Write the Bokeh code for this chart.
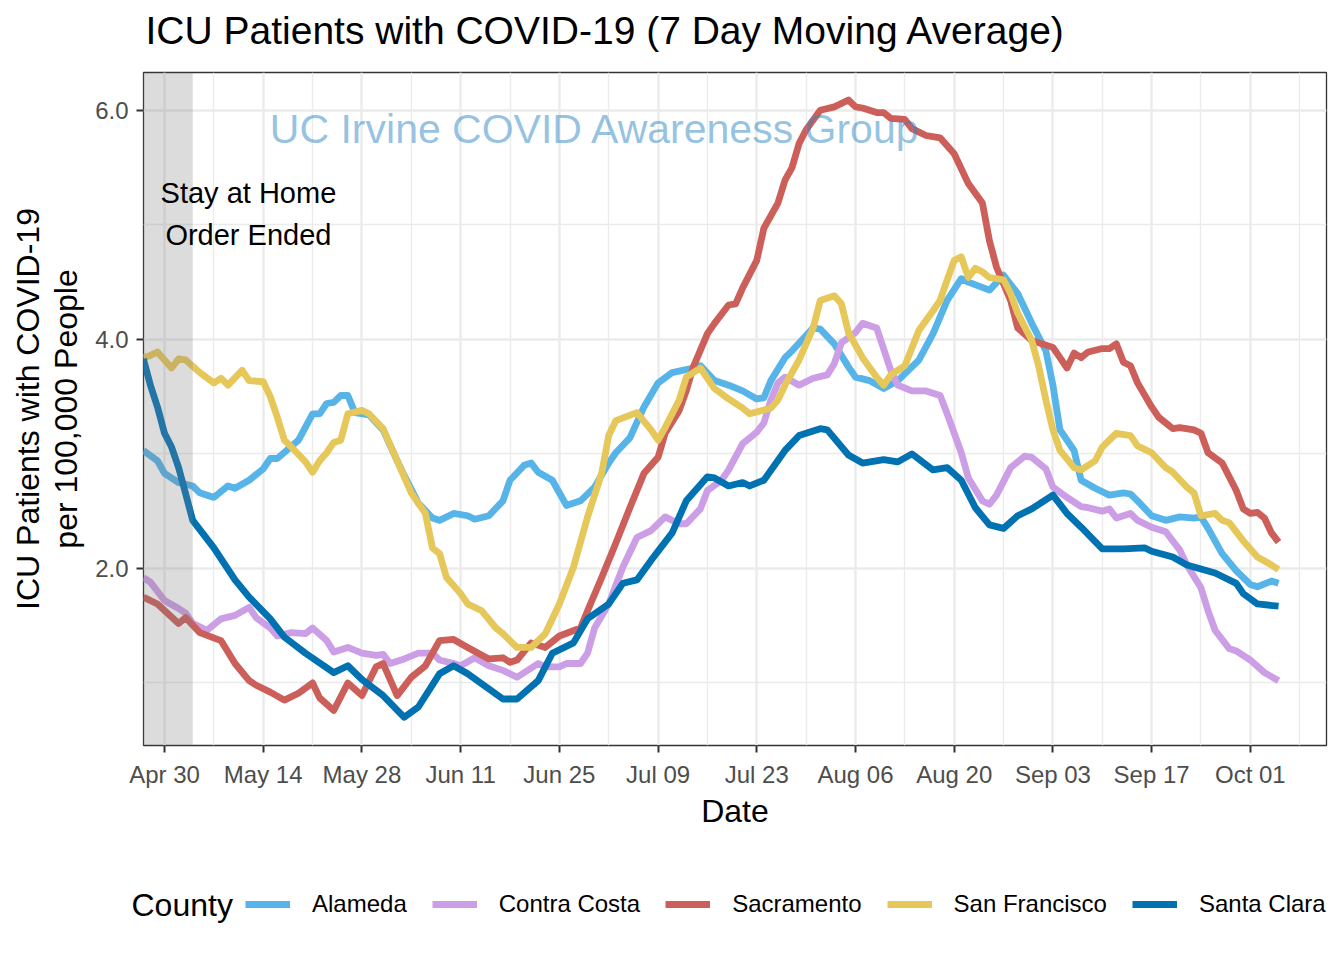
import pandas as pd
from bokeh.plotting import figure
from bokeh.layouts import column
from bokeh.models import (Range1d, FixedTicker, DatetimeTickFormatter, NumeralTickFormatter,
                          BoxAnnotation, Label, Legend, LegendItem)
from bokeh.embed import file_html
from bokeh.resources import INLINE

# ---------------- data (day offsets from 2020-04-30, ICU patients per 100k) ----------------
base_date = "2020-04-30"

alameda_day = [-3, -1, 0, 2, 4, 5, 7, 9, 10, 12, 14, 15, 16, 19, 21, 22, 23, 24, 25, 26, 27, 29, 31, 33, 34,
               36, 38, 39, 41, 43, 44, 46, 48, 49, 51, 52, 53, 55, 57, 59, 61, 63, 64, 66, 68, 70, 72, 75, 76,
               78, 80, 82, 84, 85, 86, 88, 89, 92, 93, 95, 97, 98, 100, 102, 104, 107, 109, 111, 113, 114, 117,
               119, 121, 123, 125, 126, 127, 129, 130, 132, 134, 136, 137, 138, 140, 142, 144, 146, 147, 148,
               150, 152, 154, 155, 157, 158]
alameda_val = [3.03, 2.94, 2.83, 2.75, 2.72, 2.66, 2.62, 2.72, 2.70, 2.77, 2.87, 2.96, 2.96, 3.12, 3.35, 3.35,
               3.44, 3.45, 3.51, 3.51, 3.36, 3.34, 3.21, 2.94, 2.81, 2.57, 2.44, 2.42, 2.48, 2.46, 2.43, 2.46,
               2.59, 2.77, 2.90, 2.92, 2.84, 2.77, 2.55, 2.59, 2.71, 2.92, 3.01, 3.14, 3.41, 3.62, 3.71, 3.75,
               3.77, 3.64, 3.60, 3.55, 3.48, 3.49, 3.64, 3.84, 3.90, 4.10, 4.09, 3.96, 3.76, 3.67, 3.64, 3.57,
               3.64, 3.82, 4.05, 4.34, 4.53, 4.50, 4.43, 4.56, 4.40, 4.14, 3.90, 3.60, 3.21, 3.03, 2.77, 2.70,
               2.64, 2.66, 2.65, 2.59, 2.46, 2.42, 2.45, 2.44, 2.45, 2.35, 2.13, 1.98, 1.86, 1.84, 1.89, 1.87]

contra_costa_day = [-3, -2, 0, 2, 3, 4, 6, 8, 10, 12, 13, 15, 16, 18, 20, 21, 23, 24, 26, 28, 30, 31, 32, 34,
                    36, 38, 39, 41, 42, 44, 46, 48, 50, 53, 54, 56, 57, 59, 60, 61, 63, 65, 67, 69, 70, 71, 73,
                    74, 76, 77, 79, 80, 82, 84, 85, 86, 87, 88, 90, 92, 94, 95, 96, 98, 99, 101, 103, 104, 106,
                    108, 110, 111, 112, 113, 114, 116, 117, 118, 120, 122, 123, 125, 126, 128, 130, 131, 133,
                    134, 135, 137, 138, 140, 142, 144, 145, 147, 148, 149, 151, 152, 154, 156, 158]
contra_costa_val = [1.92, 1.88, 1.72, 1.65, 1.61, 1.52, 1.46, 1.56, 1.59, 1.66, 1.57, 1.48, 1.41, 1.44, 1.43,
                    1.48, 1.37, 1.27, 1.31, 1.26, 1.24, 1.25, 1.17, 1.21, 1.26, 1.26, 1.20, 1.17, 1.15, 1.22,
                    1.15, 1.11, 1.05, 1.17, 1.14, 1.14, 1.17, 1.17, 1.26, 1.48, 1.69, 2.01, 2.27, 2.33, 2.39,
                    2.45, 2.39, 2.39, 2.52, 2.68, 2.77, 2.86, 3.09, 3.19, 3.27, 3.47, 3.62, 3.67, 3.60, 3.66,
                    3.69, 3.79, 3.97, 4.06, 4.14, 4.10, 3.73, 3.60, 3.55, 3.55, 3.51, 3.35, 3.18, 3.01, 2.79,
                    2.59, 2.56, 2.64, 2.88, 2.98, 2.97, 2.87, 2.71, 2.62, 2.54, 2.53, 2.50, 2.52, 2.44, 2.48,
                    2.42, 2.36, 2.32, 2.16, 2.03, 1.83, 1.63, 1.46, 1.30, 1.28, 1.20, 1.09, 1.02]

sacramento_day = [-3, -1, 2, 3, 5, 8, 10, 12, 13, 15, 17, 19, 21, 22, 24, 26, 28, 30, 31, 33, 35, 37, 39, 41,
                  43, 46, 48, 49, 50, 52, 54, 56, 59, 60, 62, 64, 66, 68, 70, 71, 73, 74, 75, 77, 78, 80, 81,
                  82, 84, 85, 87, 88, 89, 90, 91, 93, 95, 97, 98, 99, 101, 102, 103, 105, 106, 108, 110, 112,
                  114, 116, 117, 118, 120, 121, 123, 126, 127, 128, 129, 130, 131, 133, 134, 135, 136, 137,
                  138, 140, 141, 143, 144, 146, 147, 148, 150, 152, 153, 154, 155, 156, 157, 158]
sacramento_val = [1.75, 1.69, 1.52, 1.57, 1.44, 1.37, 1.17, 1.02, 0.98, 0.92, 0.85, 0.91, 1.00, 0.87, 0.76,
                  1.00, 0.89, 1.14, 1.17, 0.89, 1.05, 1.15, 1.37, 1.38, 1.31, 1.21, 1.22, 1.18, 1.20, 1.35,
                  1.31, 1.41, 1.48, 1.63, 1.92, 2.22, 2.53, 2.83, 2.97, 3.18, 3.38, 3.55, 3.76, 4.05, 4.14,
                  4.30, 4.31, 4.45, 4.69, 4.97, 5.19, 5.39, 5.50, 5.71, 5.83, 6.00, 6.03, 6.09, 6.03, 6.02,
                  5.98, 5.98, 5.93, 5.92, 5.84, 5.78, 5.76, 5.62, 5.36, 5.19, 4.86, 4.63, 4.34, 4.10, 3.99,
                  3.93, 3.84, 3.75, 3.88, 3.84, 3.89, 3.92, 3.92, 3.96, 3.80, 3.77, 3.62, 3.41, 3.32, 3.22,
                  3.23, 3.21, 3.18, 3.01, 2.92, 2.68, 2.52, 2.48, 2.49, 2.44, 2.31, 2.23]

san_francisco_day = [-3, -2, -1, 1, 2, 3, 5, 7, 8, 9, 11, 12, 14, 15, 16, 17, 18, 20, 21, 22, 23, 24, 25, 26,
                     28, 29, 31, 33, 34, 35, 37, 38, 39, 40, 42, 43, 45, 47, 48, 50, 52, 54, 56, 58, 60, 62,
                     63, 64, 67, 69, 70, 71, 73, 74, 76, 78, 80, 82, 83, 86, 87, 88, 90, 92, 93, 95, 96, 97,
                     99, 101, 102, 103, 105, 107, 109, 110, 111, 112, 113, 114, 115, 116, 117, 119, 120, 121,
                     123, 124, 125, 126, 127, 129, 130, 132, 133, 135, 137, 138, 140, 142, 143, 145, 146, 147,
                     149, 150, 151, 153, 155, 157, 158]
san_francisco_val = [3.84, 3.86, 3.89, 3.75, 3.83, 3.82, 3.71, 3.62, 3.66, 3.60, 3.73, 3.64, 3.63, 3.50,
                     3.32, 3.12, 3.06, 2.93, 2.84, 2.94, 3.01, 3.10, 3.12, 3.35, 3.38, 3.35, 3.22, 2.94, 2.80,
                     2.66, 2.48, 2.18, 2.13, 1.92, 1.78, 1.69, 1.63, 1.48, 1.43, 1.31, 1.31, 1.43, 1.69, 2.01,
                     2.45, 2.83, 3.16, 3.29, 3.36, 3.21, 3.12, 3.23, 3.47, 3.67, 3.75, 3.57, 3.48, 3.40, 3.35,
                     3.40, 3.47, 3.60, 3.82, 4.10, 4.34, 4.38, 4.31, 4.06, 3.84, 3.67, 3.60, 3.69, 3.77, 4.08,
                     4.25, 4.34, 4.52, 4.69, 4.72, 4.54, 4.62, 4.59, 4.54, 4.52, 4.40, 4.23, 3.99, 3.76, 3.47,
                     3.21, 3.03, 2.88, 2.86, 2.94, 3.06, 3.18, 3.16, 3.07, 3.01, 2.88, 2.84, 2.71, 2.66, 2.46,
                     2.48, 2.42, 2.40, 2.24, 2.10, 2.03, 1.99]

santa_clara_day = [-3, -2, -1, 0, 1, 2, 3, 4, 7, 10, 12, 15, 17, 20, 24, 26, 28, 31, 34, 36, 39, 41, 43, 48,
                   50, 53, 55, 58, 60, 63, 65, 67, 69, 72, 74, 77, 78, 80, 82, 83, 85, 88, 90, 93, 94, 97, 99,
                   102, 104, 106, 109, 111, 113, 115, 117, 119, 121, 123, 126, 128, 130, 133, 136, 139, 140,
                   143, 145, 149, 152, 153, 155, 158]
santa_clara_val = [3.83, 3.60, 3.41, 3.18, 3.06, 2.88, 2.65, 2.42, 2.18, 1.90, 1.75, 1.56, 1.40, 1.26, 1.09,
                   1.15, 1.03, 0.89, 0.70, 0.79, 1.08, 1.15, 1.08, 0.86, 0.86, 1.02, 1.26, 1.35, 1.56, 1.69,
                   1.87, 1.90, 2.07, 2.31, 2.59, 2.80, 2.79, 2.72, 2.75, 2.72, 2.77, 3.03, 3.16, 3.22, 3.21,
                   2.99, 2.92, 2.95, 2.93, 3.00, 2.86, 2.88, 2.77, 2.53, 2.38, 2.35, 2.46, 2.52, 2.64, 2.48,
                   2.36, 2.17, 2.17, 2.18, 2.15, 2.10, 2.03, 1.96, 1.87, 1.78, 1.69, 1.67]

counties = ["Alameda", "Contra Costa", "Sacramento", "San Francisco", "Santa Clara"]
series_days = [alameda_day, contra_costa_day, sacramento_day, san_francisco_day, santa_clara_day]
series_vals = [alameda_val, contra_costa_val, sacramento_val, san_francisco_val, santa_clara_val]
colors = ["#56B4E9", "#CC9EE6", "#CD5F5A", "#E6C75A", "#0072B2"]

x_tick_days = [14 * k for k in range(12)]          # Apr 30 ... Oct 01
x_minor_days = [14 * k - 7 for k in range(13)]
y_ticks = [2.0, 4.0, 6.0]
y_minor = [1.0, 3.0, 5.0]
order_end_day = 4                                   # shaded "stay at home" period end (May 04)

# ---------------- helpers ----------------
BASE = pd.Timestamp(base_date)
EPOCH = pd.Timestamp("1970-01-01")


def ms(d):
    return (BASE + pd.Timedelta(days=d) - EPOCH).total_seconds() * 1000.0


def dates(days):
    return [BASE + pd.Timedelta(days=d) for d in days]


FONT = "Liberation Sans"
LW = 6.8
W = 1336


def strip(height):
    f = figure(width=W, height=height, output_backend="svg", toolbar_location=None,
               x_range=Range1d(0, W), y_range=Range1d(0, height),
               x_axis_location=None, y_axis_location=None,
               min_border_left=0, min_border_right=0, min_border_top=0, min_border_bottom=0,
               outline_line_color=None, background_fill_color="white", border_fill_color="white")
    f.grid.visible = False
    if "frame_align" in f.properties():
        f.frame_align = False
    return f


# ---------------- title strip ----------------
TOP_H = 68
top = strip(TOP_H)
top.add_layout(Label(x=145, y=TOP_H - 30, text="ICU Patients with COVID-19  (7 Day Moving Average)",
                     text_font=FONT, text_font_size="39px", text_color="black",
                     text_align="left", text_baseline="middle"))

# ---------------- main plot ----------------
p = figure(width=W, height=4 + 673 + 100, x_axis_type="datetime", output_backend="svg",
           toolbar_location=None, x_range=Range1d(ms(-2.98), ms(164.8)),
           y_range=Range1d(0.454, 6.33),
           min_border_left=143, min_border_right=10, min_border_top=4, min_border_bottom=100,
           background_fill_color="white", border_fill_color="white")
try:
    p.title = None
except Exception:
    p.title.visible = False

xt = FixedTicker(ticks=[ms(d) for d in x_tick_days], minor_ticks=[ms(d) for d in x_minor_days])
yt = FixedTicker(ticks=y_ticks, minor_ticks=y_minor)
p.xaxis.ticker = xt
p.yaxis.ticker = yt
p.xgrid.ticker = xt
p.ygrid.ticker = yt
for g in (p.xgrid, p.ygrid):
    g.grid_line_color = "#EBEBEB"
    g.grid_line_width = 2.4
    g.minor_grid_line_color = "#EBEBEB"
    g.minor_grid_line_width = 1.3

fmt = "%b %d"
p.xaxis.formatter = DatetimeTickFormatter(days=fmt, months=fmt, years=fmt, hours=fmt,
                                          hourmin=fmt, minutes=fmt, seconds=fmt)
p.yaxis.formatter = NumeralTickFormatter(format="0.0")

for ax in (p.xaxis, p.yaxis):
    ax.axis_line_color = None
    ax.major_tick_out = 7
    ax.major_tick_in = 0
    ax.minor_tick_out = 0
    ax.minor_tick_in = 0
    ax.major_tick_line_color = "#333333"
    ax.major_tick_line_width = 2
    ax.major_label_text_font = FONT
    ax.major_label_text_font_size = "24px"
    ax.major_label_text_color = "#4D4D4D"
    ax.major_label_standoff = 8
    ax.axis_label_text_font = FONT
    ax.axis_label_text_font_size = "32px"
    ax.axis_label_text_font_style = "normal"
    ax.axis_label_text_color = "black"

p.xaxis.axis_label = "Date"
p.xaxis.axis_label_standoff = 2
p.yaxis.axis_label = "ICU Patients with COVID-19\nper 100,000 People"
p.yaxis.axis_label_standoff = 8
p.yaxis.axis_label_text_line_height = 1.05

p.outline_line_color = "#333333"
p.outline_line_width = 1.3

for name, d, v, c in zip(counties, series_days, series_vals, colors):
    p.line(dates(d), v, line_color=c, line_width=LW, line_join="round")

p.add_layout(BoxAnnotation(left=ms(-10), right=ms(order_end_day), fill_color="#7F7F7F",
                           fill_alpha=0.27, line_color=None))

p.add_layout(Label(x=ms(61.1), y=5.84, text="UC Irvine COVID Awareness Group",
                   text_font=FONT, text_font_size="41px", text_color="#2D87C3", text_alpha=0.5,
                   text_align="center", text_baseline="middle"))
p.add_layout(Label(x=ms(11.9), y=5.275, text="Stay at Home", text_font=FONT,
                   text_font_size="29px", text_color="black", text_align="center",
                   text_baseline="middle"))
p.add_layout(Label(x=ms(11.9), y=4.908, text="Order Ended", text_font=FONT,
                   text_font_size="29px", text_color="black", text_align="center",
                   text_baseline="middle"))

# ---------------- legend strip ----------------
LG_H = 100
lg = strip(LG_H)
key_renderers = []
for c in colors:
    # legend key glyphs only (drawn off the visible range)
    key_renderers.append(lg.line(x=[-50, -40], y=[-50, -50], line_color=c, line_width=LW))

legend = Legend(items=[LegendItem(label=n, renderers=[r]) for n, r in zip(counties, key_renderers)],
                orientation="horizontal", location=(245, 27), glyph_width=45, glyph_height=28,
                label_height=28, label_standoff=22, spacing=25, padding=0, margin=0,
                border_line_color=None, background_fill_alpha=0,
                label_text_font=FONT, label_text_font_size="24px", label_text_color="black")
lg.add_layout(legend, "center")
lg.add_layout(Label(x=131, y=41, text="County", text_font=FONT, text_font_size="32px",
                    text_color="black", text_align="left", text_baseline="middle"))

layout = column(top, p, lg, spacing=0)
open("out.html", "w").write(file_html(layout, INLINE))
